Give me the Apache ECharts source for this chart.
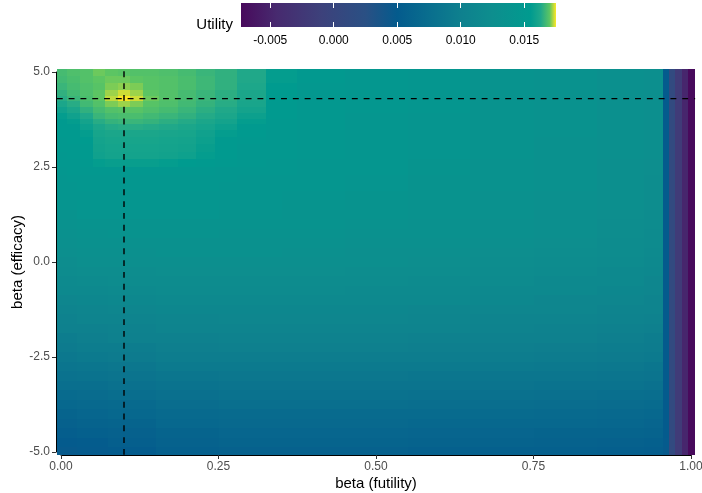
<!DOCTYPE html>
<html><head><meta charset="utf-8">
<script src="https://cdn.jsdelivr.net/npm/echarts@6/dist/echarts.min.js"></script>
<style>html,body{margin:0;padding:0;background:#fff}#c{width:702px;height:493px}</style>
</head><body><div id="c"></div>
<script>
// ---------- DATA ----------
// Upper block (beta efficacy 5 .. 2.2), fine futility columns
const FUTILITY_UPPER = [0, 0.02, 0.04, 0.06, 0.08, 0.1, 0.12, 0.14, 0.17, 0.2, 0.23, 0.26, 0.3, 0.35, 0.4, 0.5, 0.6, 0.7, 0.8, 0.9, 0.95, 0.96, 0.97, 0.98, 0.99, 1.0];
const EFFICACY_UPPER = [5, 4.8, 4.6, 4.45, 4.3, 4.15, 4.0, 3.85, 3.7, 3.55, 3.4, 3.2, 3.0, 2.8, 2.6, 2.4, 2.2];
// utility x 1000
const UTILITY_UPPER_E3 = [
  [16.75,16.85,16.9,17.05,17.0,16.95,16.9,16.9,16.85,16.75,16.6,16.5,16.3,15.6,15.0, 14.5,14.2,13.8,13.4,13.0,12.7, 5.0,1.0,-2.0,-4.8,-7.3],
  [16.7,16.8,16.9,17.0,17.05,17.05,17.0,16.95,16.9,16.8,16.65,16.5,16.3,15.6,15.0, 14.5,14.2,13.8,13.4,13.0,12.7, 5.0,1.0,-2.0,-4.8,-7.3],
  [16.6,16.75,16.85,16.95,17.1,17.15,17.1,16.95,16.9,16.8,16.65,16.5,16.25,15.5,14.9, 14.5,14.2,13.8,13.4,13.0,12.7, 5.0,1.0,-2.0,-4.8,-7.3],
  [16.5,16.7,16.85,17.0,17.2,17.35,17.2,17.0,16.9,16.75,16.6,16.45,16.2,15.5,14.9, 14.5,14.2,13.8,13.4,13.0,12.7, 5.0,1.0,-2.0,-4.8,-7.3],
  [16.4,16.6,16.8,17.0,17.3,17.5,17.35,17.05,16.9,16.75,16.6,16.45,16.2,15.5,14.9, 14.5,14.2,13.8,13.4,13.0,12.7, 5.0,1.0,-2.0,-4.8,-7.3],
  [16.2,16.4,16.7,16.9,17.1,17.2,17.1,16.95,16.85,16.7,16.55,16.4,16.15,15.4,14.9, 14.5,14.2,13.8,13.4,13.0,12.7, 5.0,1.0,-2.0,-4.8,-7.3],
  [15.9,16.2,16.5,16.75,16.9,16.95,16.95,16.85,16.75,16.6,16.45,16.3,16.0,15.3,14.8, 14.5,14.2,13.8,13.4,13.0,12.7, 5.0,1.0,-2.0,-4.8,-7.3],
  [15.6,15.9,16.3,16.6,16.75,16.8,16.8,16.7,16.6,16.5,16.35,16.2,15.8,15.2,14.8, 14.4,14.1,13.7,13.4,13.0,12.7, 5.0,1.0,-2.0,-4.8,-7.3],
  [15.4,15.6,16.0,16.4,16.55,16.6,16.6,16.55,16.45,16.35,16.2,16.0,15.6,15.1,14.7, 14.4,14.1,13.7,13.4,13.0,12.7, 5.0,1.0,-2.0,-4.8,-7.3],
  [15.3,15.4,15.8,16.2,16.35,16.4,16.4,16.35,16.3,16.2,16.05,15.8,15.4,15.0,14.7, 14.4,14.1,13.7,13.4,13.0,12.7, 5.0,1.0,-2.0,-4.8,-7.3],
  [15.2,15.3,15.6,16.1,16.2,16.2,16.2,16.2,16.15,16.1,15.9,15.6,15.2,14.9,14.6, 14.4,14.1,13.7,13.4,13.0,12.7, 5.0,1.0,-2.0,-4.8,-7.3],
  [15.1,15.2,15.5,16.0,16.1,16.1,16.1,16.1,16.05,16.0,15.8,15.4,15.0,14.8,14.6, 14.3,14.0,13.6,13.3,12.9,12.6, 5.0,1.0,-2.0,-4.8,-7.3],
  [15.0,15.1,15.4,15.95,16.05,16.05,16.05,16.05,16.0,15.95,15.7,15.3,14.9,14.7,14.5, 14.3,14.0,13.6,13.3,12.9,12.6, 5.0,1.0,-2.0,-4.8,-7.3],
  [14.9,15.0,15.3,15.9,16.0,16.0,16.0,16.0,15.95,15.85,15.6,15.2,14.8,14.7,14.5, 14.3,14.0,13.6,13.3,12.9,12.6, 5.0,1.0,-2.0,-4.8,-7.3],
  [14.8,14.9,15.1,15.6,15.7,15.7,15.7,15.7,15.6,15.5,15.3,15.0,14.7,14.6,14.4, 14.2,13.9,13.5,13.2,12.8,12.5, 5.0,1.0,-2.0,-4.8,-7.3],
  [14.6,14.7,14.8,14.9,14.9,14.9,14.9,14.9,14.9,14.8,14.7,14.6,14.5,14.5,14.4, 14.2,13.9,13.5,13.2,12.8,12.5, 5.0,1.0,-2.0,-4.8,-7.3],
  [14.4,14.5,14.6,14.6,14.6,14.6,14.6,14.6,14.6,14.6,14.5,14.5,14.4,14.4,14.3, 14.1,13.8,13.4,13.1,12.8,12.4, 5.0,1.0,-2.0,-4.8,-7.3]
];
// Lower block (beta efficacy 2 .. -5), coarser futility columns
const FUTILITY_LOWER = [0, 0.05, 0.1, 0.2, 0.3, 0.4, 0.5, 0.6, 0.7, 0.8, 0.9, 0.95, 0.96, 0.97, 0.98, 0.99, 1.0];
const EFFICACY_LOWER = [2, 1.75, 1.5, 1.25, 1, 0.75, 0.5, 0.25, 0, -0.25, -0.5, -0.75, -1, -1.25, -1.5, -1.75, -2, -2.25, -2.5, -2.75, -3, -3.25, -3.5, -3.75, -4, -4.25, -4.5, -4.75, -5];
const UTILITY_LOWER_E3 = [
  [14.3,14.5,14.5,14.5,14.4,14.2,14.0,13.7,13.4,13.1,12.7,12.4, 5.0,1.0,-2.0,-4.8,-7.3],
  [14.2,14.4,14.4,14.4,14.3,14.1,13.9,13.6,13.3,13.0,12.7,12.4, 5.0,1.0,-2.0,-4.8,-7.3],
  [14.0,14.2,14.2,14.2,14.1,13.9,13.7,13.5,13.2,12.9,12.6,12.3, 5.0,1.0,-2.0,-4.8,-7.3],
  [13.8,14.0,14.0,14.0,13.9,13.8,13.6,13.4,13.1,12.8,12.5,12.2, 5.0,1.0,-2.0,-4.8,-7.3],
  [13.5,13.7,13.8,13.8,13.7,13.6,13.4,13.2,13.0,12.7,12.4,12.1, 5.0,1.0,-2.0,-4.8,-7.3],
  [13.3,13.5,13.6,13.6,13.5,13.4,13.2,13.1,12.9,12.6,12.3,12.0, 5.0,1.0,-2.0,-4.8,-7.3],
  [13.0,13.2,13.3,13.3,13.3,13.2,13.0,12.9,12.7,12.5,12.2,11.9, 5.0,1.0,-2.0,-4.8,-7.3],
  [12.7,12.9,13.0,13.1,13.1,13.0,12.8,12.7,12.5,12.3,12.1,11.8, 5.0,1.0,-2.0,-4.8,-7.3],
  [12.4,12.6,12.7,12.8,12.8,12.7,12.6,12.5,12.3,12.1,11.9,11.6, 5.0,1.0,-2.0,-4.8,-7.3],
  [12.1,12.3,12.4,12.5,12.5,12.5,12.4,12.3,12.1,11.9,11.7,11.4, 5.0,1.0,-2.0,-4.8,-7.3],
  [11.8,12.0,12.1,12.2,12.2,12.2,12.1,12.0,11.9,11.7,11.5,11.2, 5.0,1.0,-2.0,-4.8,-7.3],
  [11.5,11.6,11.8,11.9,11.9,11.9,11.8,11.8,11.7,11.5,11.3,11.0, 5.0,1.0,-2.0,-4.8,-7.3],
  [11.1,11.3,11.4,11.6,11.6,11.6,11.5,11.5,11.4,11.2,11.0,10.8, 5.0,1.0,-2.0,-4.8,-7.3],
  [10.8,10.9,11.1,11.3,11.3,11.3,11.3,11.2,11.1,11.0,10.8,10.6, 5.0,1.0,-2.0,-4.8,-7.3],
  [10.4,10.6,10.8,10.9,11.0,11.0,11.0,10.9,10.8,10.7,10.5,10.3, 5.0,1.0,-2.0,-4.8,-7.3],
  [10.1,10.2,10.4,10.6,10.7,10.7,10.7,10.6,10.5,10.4,10.2,10.0, 5.0,1.0,-2.0,-4.8,-7.3],
  [9.7,9.9,10.1,10.2,10.3,10.3,10.3,10.2,10.2,10.1,9.9,9.7, 5.0,1.0,-2.0,-4.8,-7.3],
  [9.3,9.5,9.7,9.9,10.0,10.0,10.0,9.9,9.9,9.8,9.6,9.4, 5.0,1.0,-2.0,-4.8,-7.3],
  [8.9,9.1,9.3,9.5,9.6,9.6,9.6,9.5,9.5,9.4,9.3,9.1, 5.0,1.0,-2.0,-4.8,-7.3],
  [8.5,8.6,8.8,9.1,9.2,9.2,9.2,9.1,9.1,9.0,8.9,8.7, 5.0,1.0,-2.0,-4.8,-7.3],
  [8.0,8.2,8.4,8.7,8.8,8.8,8.8,8.7,8.7,8.6,8.5,8.3, 5.0,1.0,-2.0,-4.8,-7.3],
  [7.6,7.7,7.9,8.2,8.4,8.4,8.4,8.3,8.3,8.2,8.1,7.9, 5.0,1.0,-2.0,-4.8,-7.3],
  [7.1,7.3,7.5,7.8,8.0,8.0,8.0,7.9,7.9,7.8,7.7,7.5, 5.0,1.0,-2.0,-4.8,-7.3],
  [6.7,6.8,7.0,7.4,7.6,7.6,7.6,7.5,7.5,7.4,7.3,7.1, 5.0,1.0,-2.0,-4.8,-7.3],
  [6.2,6.4,6.6,7.0,7.2,7.2,7.2,7.1,7.1,7.0,6.9,6.7, 5.0,1.0,-2.0,-4.8,-7.3],
  [5.8,6.0,6.2,6.6,6.8,6.8,6.8,6.7,6.7,6.6,6.5,6.3, 5.0,1.0,-2.0,-4.8,-7.3],
  [5.4,5.6,5.8,6.2,6.4,6.4,6.4,6.3,6.3,6.2,6.1,6.0, 5.0,1.0,-2.0,-4.8,-7.3],
  [5.1,5.2,5.5,5.9,6.1,6.1,6.1,6.0,6.0,5.9,5.8,5.7, 4.9,1.0,-2.0,-4.8,-7.3],
  [4.8,4.9,5.2,5.6,5.8,5.8,5.8,5.7,5.7,5.6,5.5,5.4, 4.8,1.0,-2.0,-4.8,-7.3]
];
// optimum (dashed lines)
const OPT_FUTILITY = 0.1;
const OPT_EFFICACY = 4.3;
// axes and legend
const X_TICK_STEP = 0.25;
const Y_TICK_STEP = 2.5;
const LEGEND_TITLE = 'Utility';
const LEGEND_BREAKS = [-0.005, 0, 0.005, 0.01, 0.015];
const UTILITY_MIN = -0.0073;
const UTILITY_MAX = 0.0175;
// colour scale (value -> colour)
const COLOR_STOPS = [
  [-0.0073, '#480a5c'], [-0.0045, '#472a6f'], [-0.001, '#3d417b'], [0.0025, '#2a5084'],
  [0.005, '#045b8d'], [0.0075, '#096e8e'], [0.010, '#0e808e'], [0.0125, '#0d8e8e'],
  [0.0155, '#009b8f'], [0.0163, '#1fa88a'], [0.0170, '#5cc563'], [0.0175, '#fde725']
];

// ---------- BUILD ----------
const FONT = "'Liberation Sans', Arial, sans-serif";
const PAD_X = 0.0066, PAD_Y = 0.075;

function hex2rgb(h){return [1,3,5].map(i=>parseInt(h.substr(i,2),16));}
function colorAt(v){
  for (let k=0;k<COLOR_STOPS.length-1;k++){
    const a=COLOR_STOPS[k], b=COLOR_STOPS[k+1];
    if (v<=b[0]){
      const t=Math.max(0,Math.min(1,(v-a[0])/(b[0]-a[0])));
      const ca=hex2rgb(a[1]), cb=hex2rgb(b[1]);
      return 'rgb('+ca.map((x,i)=>Math.round(x+(cb[i]-x)*t)).join(',')+')';
    }
  }
  return COLOR_STOPS[COLOR_STOPS.length-1][1];
}
const vmColors = [];
for (let k=0;k<200;k++){ vmColors.push(colorAt(UTILITY_MIN+(UTILITY_MAX-UTILITY_MIN)*k/199)); }
const gradStops = COLOR_STOPS.map(s=>({offset:(s[0]-UTILITY_MIN)/(UTILITY_MAX-UTILITY_MIN), color:s[1]}));

const X_LO = 0 - PAD_X, X_HI = 1 + PAD_X, Y_HI = 5 + PAD_Y, Y_LO = -5 - PAD_Y;
const BLOCK_SPLIT = (EFFICACY_UPPER[EFFICACY_UPPER.length-1] + EFFICACY_LOWER[0]) / 2;
function buildCells(xs, ys, table, yTopEdge, yBotEdge, out){
  const nX = xs.length, nY = ys.length;
  for (let j=0;j<nY;j++){
    for (let i=0;i<nX;i++){
      const x0 = i===0 ? X_LO : (xs[i-1]+xs[i])/2;
      const x1 = i===nX-1 ? X_HI : (xs[i]+xs[i+1])/2;
      const yT = j===0 ? yTopEdge : (ys[j-1]+ys[j])/2;
      const yB = j===nY-1 ? yBotEdge : (ys[j]+ys[j+1])/2;
      out.push([xs[i], ys[j], table[j][i]/1000, x0, x1, yB, yT]);
    }
  }
  return out;
}
const cells = [];
buildCells(FUTILITY_UPPER, EFFICACY_UPPER, UTILITY_UPPER_E3, Y_HI, BLOCK_SPLIT, cells);
buildCells(FUTILITY_LOWER, EFFICACY_LOWER, UTILITY_LOWER_E3, BLOCK_SPLIT, Y_LO, cells);

const chart = echarts.init(document.getElementById('c'), null, {renderer:'canvas'});
const tickLabel = {color:'#4d4d4d', fontSize:12, fontFamily:FONT};
chart.setOption({
  animation:false,
  backgroundColor:'#fff',
  textStyle:{fontFamily:FONT},
  grid:[
    {left:61, right:11, top:72, bottom:41, containLabel:false, outerBoundsMode:'none'},
    {left:241, top:3, width:315, height:24, containLabel:false, outerBoundsMode:'none'}
  ],
  visualMap:{type:'continuous', show:false, seriesIndex:0, dimension:2, min:UTILITY_MIN, max:UTILITY_MAX, inRange:{color:vmColors}},
  xAxis:[
    {gridIndex:0, type:'value', min:0, max:1, interval:X_TICK_STEP, offset:3, z:10,
     axisLine:{show:true, onZero:false, lineStyle:{color:'#000', width:1}},
     axisTick:{show:true, length:4, lineStyle:{color:'#333', width:1}},
     axisLabel:Object.assign({formatter:v=>v.toFixed(2), margin:6}, tickLabel),
     splitLine:{show:false},
     name:'beta (futility)', nameLocation:'middle', nameGap:21, nameMoveOverlap:false,
     nameTextStyle:{fontSize:15, color:'#000', fontFamily:FONT}},
    {gridIndex:1, type:'value', min:UTILITY_MIN, max:UTILITY_MAX, position:'bottom', z:10,
     axisLine:{show:false},
     axisTick:{show:true, inside:true, length:5, customValues:LEGEND_BREAKS, lineStyle:{color:'#fff', width:1}},
     axisLabel:{customValues:LEGEND_BREAKS, formatter:v=>v.toFixed(3), margin:8, fontSize:12, color:'#000', fontFamily:FONT},
     splitLine:{show:false}},
    {gridIndex:1, type:'value', min:UTILITY_MIN, max:UTILITY_MAX, position:'top', z:10,
     axisLine:{show:false},
     axisTick:{show:true, inside:true, length:5, customValues:LEGEND_BREAKS, lineStyle:{color:'#fff', width:1}},
     axisLabel:{show:false}, splitLine:{show:false}}
  ],
  yAxis:[
    {gridIndex:0, type:'value', min:-5, max:5, interval:Y_TICK_STEP, offset:5, z:10,
     axisLine:{show:true, onZero:false, lineStyle:{color:'#000', width:1}},
     axisTick:{show:true, length:4, lineStyle:{color:'#333', width:1}},
     axisLabel:Object.assign({formatter:v=>v.toFixed(1), margin:6}, tickLabel),
     splitLine:{show:false},
     name:'beta (efficacy)', nameLocation:'middle', nameGap:31, nameRotate:90, nameMoveOverlap:false,
     nameTextStyle:{fontSize:15, color:'#000', fontFamily:FONT}},
    {gridIndex:1, type:'value', min:0, max:1, show:false}
  ],
  graphic:[{type:'text', right:702-233, top:17.5, style:{text:LEGEND_TITLE, fontSize:15, fill:'#000', font:'15px '+FONT}}],
  series:[
    {type:'custom', xAxisIndex:0, yAxisIndex:0, data:cells, encode:{x:0, y:1}, clip:false, z:2,
     renderItem:function(params, api){
       const p0 = api.coord([api.value(3), api.value(6)]);
       const p1 = api.coord([api.value(4), api.value(5)]);
       const x = Math.round(p0[0]), y = Math.round(p0[1]);
       return {type:'rect', shape:{x:x, y:y, width:Math.round(p1[0])-x, height:Math.round(p1[1])-y},
               style:{fill:api.visual('color')}};
     }},
    {type:'custom', xAxisIndex:0, yAxisIndex:0, data:[[OPT_FUTILITY, OPT_EFFICACY]], encode:{x:0, y:1}, clip:false, z:5, silent:true,
     renderItem:function(params, api){
       const vx = api.value(0), vy = api.value(1);
       const b = api.coord([vx, Y_LO]), t = api.coord([vx, Y_HI]);
       const l = api.coord([X_LO, vy]), r = api.coord([X_HI, vy]);
       const st = {stroke:'#000', lineWidth:1.4, lineDash:[5.9,5.9], fill:null};
       return {type:'group', children:[
         {type:'line', shape:{x1:b[0], y1:b[1], x2:t[0], y2:t[1]}, style:st},
         {type:'line', shape:{x1:l[0], y1:l[1], x2:r[0], y2:r[1]}, style:st}
       ]};
     }},
    {type:'custom', xAxisIndex:1, yAxisIndex:1, data:[[UTILITY_MIN, UTILITY_MAX]], encode:{x:[0,1]}, clip:false, z:2, silent:true,
     renderItem:function(params, api){
       const p0 = api.coord([api.value(0), 1]);
       const p1 = api.coord([api.value(1), 0]);
       return {type:'rect', shape:{x:p0[0], y:p0[1], width:p1[0]-p0[0], height:p1[1]-p0[1]},
               style:{fill:new echarts.graphic.LinearGradient(0,0,1,0,gradStops)}};
     }}
  ]
});
</script>
</body></html>
